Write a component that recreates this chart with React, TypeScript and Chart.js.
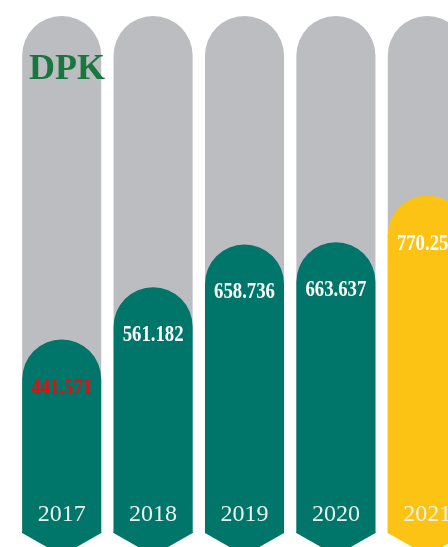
import React, { useEffect, useRef } from "react";
import { Chart, registerables } from "chart.js";

Chart.register(...registerables);

const years = ["2017", "2018", "2019", "2020", "2021"];
const values = [441.571, 561.182, 658.736, 663.637, 770.254];
const valueLabels = ["441.571", "561.182", "658.736", "663.637", "770.254"];
const trackValues = [1180, 1180, 1180, 1180, 1180];
const scaleMax = 1180;
const barColors = ["#00766a", "#00766a", "#00766a", "#00766a", "#fdc314"];
const labelColors = ["#ee0a0a", "#ffffff", "#ffffff", "#ffffff", "#ffffff"];
const trackColor = "#bcbdc1";
const titleText = "DPK";
const titleColor = "#18773f";

const overlayPlugin = {
  id: "overlay",
  afterDatasetsDraw(chart: any) {
    const ctx = chart.ctx as CanvasRenderingContext2D;
    const meta = chart.getDatasetMeta(0);
    meta.data.forEach((bar: any, i: number) => {
      const { x, y, base, width } = bar.getProps(["x", "y", "base", "width"], true);
      const hw = width / 2;
      ctx.save();
      // chevron bottom
      ctx.fillStyle = barColors[i];
      ctx.beginPath();
      ctx.moveTo(x - hw, base - 1);
      ctx.lineTo(x + hw, base - 1);
      ctx.lineTo(x + hw, base);
      ctx.lineTo(x, base + hw * 0.57);
      ctx.lineTo(x - hw, base);
      ctx.closePath();
      ctx.fill();
      ctx.restore();

      // value label
      ctx.save();
      ctx.font = "bold 24px 'Liberation Serif', 'Times New Roman', serif";
      ctx.fillStyle = labelColors[i];
      ctx.textAlign = "center";
      ctx.textBaseline = "alphabetic";
      ctx.translate(x, y + 54);
      ctx.scale(0.78, 1);
      ctx.fillText(valueLabels[i], 0, 0);
      ctx.restore();

      // year label
      ctx.save();
      ctx.font = "24px 'Liberation Serif', 'Times New Roman', serif";
      ctx.fillStyle = "#eef2ee";
      ctx.textAlign = "center";
      ctx.textBaseline = "alphabetic";
      ctx.fillText(years[i], x, base - 12);
      ctx.restore();
    });

    // title
    ctx.save();
    ctx.font = "bold 36px 'Liberation Serif', 'Times New Roman', serif";
    ctx.fillStyle = titleColor;
    ctx.textAlign = "left";
    ctx.textBaseline = "alphabetic";
    ctx.fillText(titleText, 29, 78.5);
    ctx.restore();
  },
};

export default function App() {
  const canvasRef = useRef<HTMLCanvasElement | null>(null);

  useEffect(() => {
    document.body.style.margin = "0";
    document.documentElement.style.overflow = "hidden";
    const canvas = canvasRef.current;
    if (!canvas) return;
    const chart = new Chart(canvas, {
      type: "bar",
      data: {
        labels: years,
        datasets: [
          {
            data: values,
            backgroundColor: barColors,
            borderWidth: 0,
            grouped: false,
            barPercentage: 1,
            categoryPercentage: 0.865,
            borderRadius: { topLeft: 40, topRight: 40, bottomLeft: 0, bottomRight: 0 },
            borderSkipped: false,
          } as any,
          {
            data: trackValues,
            backgroundColor: trackColor,
            borderWidth: 0,
            grouped: false,
            barPercentage: 1,
            categoryPercentage: 0.865,
            borderRadius: { topLeft: 40, topRight: 40, bottomLeft: 0, bottomRight: 0 },
            borderSkipped: false,
          } as any,
        ],
      },
      options: {
        responsive: true,
        maintainAspectRatio: false,
        animation: false,
        layout: { padding: { left: 16, right: 0, top: 16, bottom: 14 } },
        plugins: {
          legend: { display: false },
          tooltip: { enabled: false },
          title: { display: false },
        },
        scales: {
          x: { display: false, grid: { display: false } },
          y: { display: false, min: 0, max: scaleMax, grid: { display: false } },
        },
      },
      plugins: [overlayPlugin],
    });
    return () => chart.destroy();
  }, []);

  return (
    <div style={{ width: 448, height: 547, overflow: "hidden", position: "relative", background: "#ffffff" }}>
      <div style={{ width: 473, height: 547, position: "relative" }}>
        <canvas ref={canvasRef} />
      </div>
    </div>
  );
}
